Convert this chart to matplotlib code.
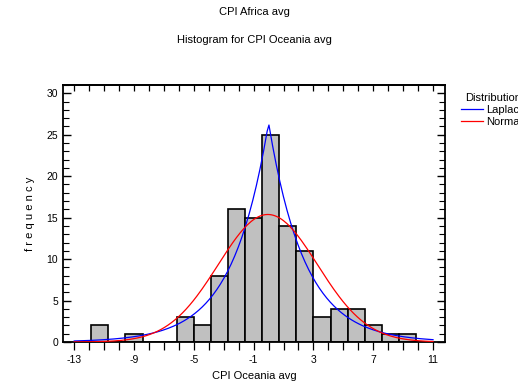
import numpy as np
import matplotlib.pyplot as plt
from matplotlib.ticker import MultipleLocator

# histogram: 21 classes from -13 to 11
bin_lo = -13.0
bin_hi = 11.0
counts = [0, 2, 0, 1, 0, 0, 3, 2, 8, 16, 15, 25, 14, 11, 3, 4, 4, 2, 1, 1, 0]

# fitted distributions (parameters estimated from the curves)
laplace_loc = 0.0
laplace_scale = 2.42
normal_mean = -0.05
normal_sd = 3.32

x_ticks = [-13, -9, -5, -1, 3, 7, 11]
y_ticks = [0, 5, 10, 15, 20, 25, 30]

plt.rcParams['font.family'] = ['Liberation Sans', 'DejaVu Sans']
plt.rcParams['axes.unicode_minus'] = False

n = len(counts)
edges = np.linspace(bin_lo, bin_hi, n + 1)
width = edges[1] - edges[0]
total = sum(counts)

fig = plt.figure(figsize=(5.18, 3.82), dpi=100)
ax = fig.add_axes([63 / 518, 1 - 342 / 382, 382 / 518, 257 / 382])

ax.bar(edges[:-1], counts, width=width, align='edge', color='#c0c0c0',
       edgecolor='black', linewidth=1.2, zorder=2)

xs = np.linspace(bin_lo, bin_hi, 200)
lap = total * width * np.exp(-np.abs(xs - laplace_loc) / laplace_scale) / (2 * laplace_scale)
nor = total * width * np.exp(-0.5 * ((xs - normal_mean) / normal_sd) ** 2) / (normal_sd * np.sqrt(2 * np.pi))
ax.plot(xs, lap, color='#0000ff', linewidth=0.9, zorder=3, label='Laplace')
ax.plot(xs, nor, color='#ff0000', linewidth=0.9, zorder=3, label='Normal')

ax.set_xlim(-13.75, 11.8)
ax.set_ylim(0, 31.0)
ax.set_xticks(x_ticks)
ax.set_yticks(y_ticks)
ax.xaxis.set_minor_locator(MultipleLocator(1))
ax.yaxis.set_minor_locator(MultipleLocator(1))
ax.tick_params(axis='y', which='both', direction='in', left=True, right=True, labelsize=7.5)
ax.tick_params(axis='y', which='major', length=6, width=1)
ax.tick_params(axis='y', which='minor', length=4, width=0.8)
ax.tick_params(axis='x', which='both', direction='out', labelsize=7.5, length=6, width=0.9)

# top ticks point inward, bottom ones outward
top = ax.secondary_xaxis('top')
top.set_xticks(x_ticks)
top.xaxis.set_minor_locator(MultipleLocator(1))
top.tick_params(which='both', direction='in', labeltop=False, length=4, width=0.9)
top.spines['top'].set_linewidth(1.3)

for s in ax.spines.values():
    s.set_linewidth(1.3)

ax.set_xlabel('CPI Oceania avg', fontsize=8, labelpad=4)
ax.set_ylabel('f r e q u e n c y', fontsize=8, labelpad=8)

fig.text(254 / 518, 1 - 12 / 382, 'CPI Africa avg', ha='center', va='center', fontsize=8)
fig.text(254 / 518, 1 - 40 / 382, 'Histogram for CPI Oceania avg', ha='center', va='center', fontsize=8)

fig.legend(loc='upper left', bbox_to_anchor=(453 / 518, 1 - 85 / 382), frameon=False,
           title='Distribution', fontsize=8, title_fontsize=8, handlelength=2.0,
           handletextpad=0.3, borderpad=0.2, labelspacing=0.2)

fig.savefig('out.png', dpi=100)
